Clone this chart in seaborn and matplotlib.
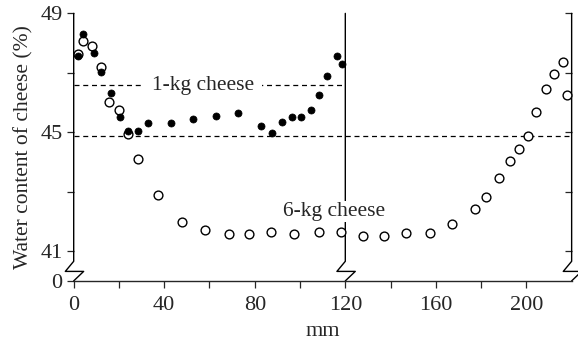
import numpy as np
import seaborn as sns
from matplotlib import pyplot as plt

# 1-kg cheese (filled circles)
kg1_mm = [2.0, 4.2, 9.0, 11.9, 16.4, 20.5, 24.1, 28.3, 32.8, 42.9, 52.6, 62.8, 72.8,
          82.8, 87.7, 92.1, 96.4, 100.6, 104.8, 108.4, 112.0, 116.3, 118.6]
kg1_water = [47.55, 48.3, 47.67, 47.03, 46.31, 45.5, 45.05, 45.06, 45.3, 45.3, 45.46, 45.56, 45.65,
             45.22, 44.97, 45.34, 45.53, 45.53, 45.76, 46.25, 46.9, 47.58, 47.3]

# 6-kg cheese (open circles)
kg6_mm = [2.0, 4.0, 8.2, 11.9, 15.5, 20.0, 23.9, 28.6, 37.4, 48.0, 58.0, 68.4, 77.6, 87.2,
          97.5, 108.4, 117.9, 127.8, 137.3, 146.9, 157.5, 167.2, 177.3, 182.3, 187.7,
          192.6, 196.6, 200.7, 204.4, 208.8, 212.3, 216.2, 218.1]
kg6_water = [47.64, 48.07, 47.9, 47.18, 46.01, 45.75, 44.93, 44.11, 42.9, 41.99, 41.71, 41.58,
             41.58, 41.64, 41.59, 41.64, 41.64, 41.52, 41.52, 41.6, 41.6, 41.93, 42.43, 42.82,
             43.45, 44.03, 44.45, 44.88, 45.68, 46.45, 46.97, 47.35, 46.26]

yticks = [40, 41, 43, 45, 47, 49]
ytick_labels = ['0', '41', '', '45', '', '49']
xticks = list(range(0, 220, 20))
xtick_labels = ['0', '', '40', '', '80', '', '120', '', '160', '', '200']

sns.set_style('ticks')
plt.rcParams['font.family'] = ['Liberation Serif', 'DejaVu Serif']

fig = plt.figure(figsize=(5.78, 3.43), dpi=100)
ax = fig.add_axes([0.1275, 0.181, 0.8615, 0.78])

# reference lines
ax.plot([0, 120], [46.58, 46.58], color='black', lw=0.9, ls=(0, (4, 3)), zorder=1)
ax.plot([0, 220], [44.88, 44.88], color='black', lw=0.9, ls=(0, (4, 3)), zorder=1)

sns.scatterplot(x=kg1_mm, y=kg1_water, color='black', edgecolor='black', s=26,
                linewidth=0.5, ax=ax, zorder=4)
sns.scatterplot(x=kg6_mm, y=kg6_water, facecolor='white', edgecolor='black', s=40,
                linewidth=1.0, ax=ax, zorder=3)

# axis lines with break marks
def broken(x):
    ax.plot([x, x, x - 3.7, x + 4.4, x], [49, 40.66, 40.32, 40.32, 40.0],
            color='black', lw=1.0, clip_on=False, zorder=2)

for xb in [0, 120, 220]:
    broken(xb)

ax.text(57, 46.58, '1-kg cheese', fontsize=15.5, ha='center', va='center',
        bbox=dict(facecolor='white', edgecolor='none', pad=6), zorder=2)
ax.text(115, 42.33, '6-kg cheese', fontsize=15.5, ha='center', va='center',
        bbox=dict(facecolor='white', edgecolor='none', pad=1), zorder=2)

ax.set_xlim(0, 220)
ax.set_ylim(40, 49)
ax.set_xticks(xticks)
ax.set_xticklabels(xtick_labels)
ax.set_yticks(yticks)
ax.set_yticklabels(ytick_labels)
for side in ['left', 'right', 'top']:
    ax.spines[side].set_visible(False)
ax.spines['bottom'].set_linewidth(1.0)
ax.tick_params(direction='out', length=5, width=0.9, labelsize=16, pad=3)
ax.tick_params(axis='x', pad=6)

sec = ax.secondary_yaxis('right')
sec.set_yticks([41, 43, 45, 47, 49])
sec.tick_params(direction='in', length=5, width=0.9, labelright=False)
sec.spines['right'].set_visible(False)

ax.set_xlabel('mm', fontsize=16, labelpad=5)
ax.set_ylabel('Water content of cheese (%)', fontsize=15.5, labelpad=5)

fig.savefig('out.png', dpi=100)
